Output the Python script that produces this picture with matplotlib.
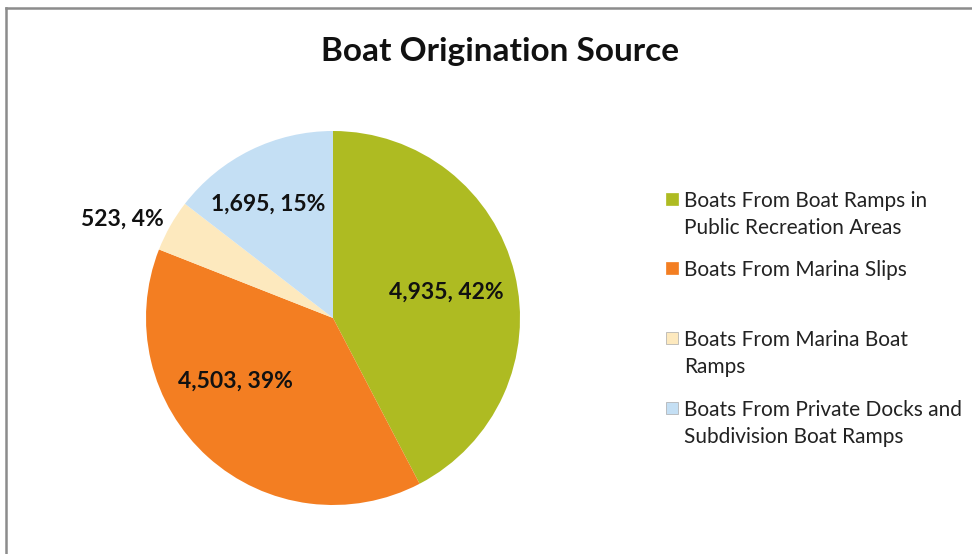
import matplotlib
matplotlib.use("Agg")
import matplotlib.pyplot as plt
from matplotlib.lines import Line2D
from matplotlib.patches import Rectangle
import numpy as np

# ---- data ----
categories = [
    "Boats From Boat Ramps in\nPublic Recreation Areas",
    "Boats From Marina Slips",
    "Boats From Marina Boat\nRamps",
    "Boats From Private Docks and\nSubdivision Boat Ramps",
]
values = [4935, 4503, 523, 1695]
percent_labels = ["42%", "39%", "4%", "15%"]
title = "Boat Origination Source"

# ---- style / layout ----
colors = ["#AEBB22", "#F37E22", "#FDE9BE", "#C4DFF4"]
FONT = "Lato"
W, H = 972, 554
fig = plt.figure(figsize=(W / 100, H / 100), dpi=100)

cx, cy, r = 333, 318, 187  # pixel center / radius
ax = fig.add_axes([(cx - r) / W, (H - cy - r) / H, 2 * r / W, 2 * r / H])
wedges, _ = ax.pie(values, colors=colors, startangle=90, counterclock=False,
                   wedgeprops=dict(linewidth=0), radius=1)
ax.set_xlim(-1, 1)
ax.set_ylim(-1, 1)
ax.set_aspect("auto")
ax.axis("off")

# label positions in radius units (layout)
label_pos = [(0.604, 0.139), (-0.524, -0.337), (-1.128, 0.529), (-0.348, 0.61)]
for v, p, (x, y) in zip(values, percent_labels, label_pos):
    ax.text(x, y, f"{v:,}, {p}", ha="center", va="center", fontsize=16.5,
            fontweight="bold", family=FONT, color="#111111", clip_on=False)

fig.text(500 / W, 1 - 51 / H, title, ha="center", va="center", fontsize=24,
         fontweight="bold", family=FONT, color="#111111")

# legend (manual, matching uneven spacing)
leg_y = [199, 268, 338, 408]
for lab, c, y in zip(categories, colors, leg_y):
    fig.add_artist(Rectangle(((666) / W, 1 - (y + 6) / H), 12 / W, 12 / H,
                             transform=fig.transFigure, facecolor=c,
                             edgecolor="#AAAAAA" if c in ("#FDE9BE", "#C4DFF4") else c,
                             linewidth=0.5))
    fig.text(684 / W, 1 - y / H, lab.split("\n")[0], ha="left", va="center_baseline",
             fontsize=15, family=FONT, color="#222222")
    if "\n" in lab:
        fig.text(684 / W, 1 - (y + 27) / H, lab.split("\n")[1], ha="left",
                 va="center_baseline", fontsize=15, family=FONT, color="#222222")

# border lines (top and left)
fig.add_artist(Line2D([6 / W, 1], [1 - 8 / H, 1 - 8 / H], transform=fig.transFigure,
                      color="#8C8C8C", linewidth=1.8))
fig.add_artist(Line2D([6 / W, 6 / W], [0, 1 - 8 / H], transform=fig.transFigure,
                      color="#8C8C8C", linewidth=1.8))

fig.savefig("out.png", dpi=100, facecolor="white")
